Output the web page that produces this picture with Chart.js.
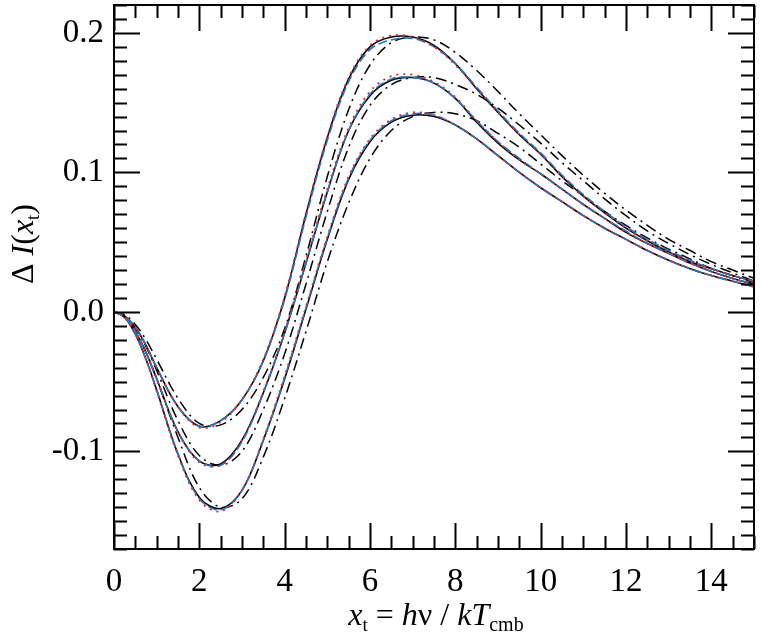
<!DOCTYPE html>
<html>
<head>
<meta charset="utf-8">
<script src="https://cdn.jsdelivr.net/npm/chart.js@4.4.1/dist/chart.umd.min.js"></script>
<style>
  html, body { margin: 0; padding: 0; background: #fff; }
  #wrap { width: 763px; height: 635px; }
</style>
</head>
<body>
<div id="wrap"><canvas id="szChart" width="763" height="635"></canvas></div>
<script>
// sampling in x_t
const xs = [0, 0.25, 0.5, 0.75, 1, 1.5, 2, 2.5, 3, 3.5, 4, 4.5, 5, 5.5, 6, 6.5, 7, 7.5,
  8, 8.5, 9, 9.5, 10, 10.5, 11, 11.5, 12, 12.5, 13, 13.5, 14, 14.5, 15];

// group A (shallowest dip, highest peak)
const solidA = [0, -0.003, -0.011, -0.024, -0.040, -0.068, -0.082, -0.078, -0.063, -0.035, 0.010, 0.070, 0.125, 0.167,
  0.190, 0.197, 0.197, 0.191, 0.178, 0.160, 0.143, 0.127, 0.113, 0.097, 0.083, 0.071, 0.060,
  0.051, 0.043, 0.036, 0.031, 0.026, 0.022];
const blueA = [0, -0.003, -0.011, -0.024, -0.040, -0.068, -0.082, -0.078, -0.063, -0.035, 0.009, 0.068, 0.123, 0.165,
  0.188, 0.195, 0.196, 0.190, 0.178, 0.161, 0.144, 0.128, 0.114, 0.098, 0.084, 0.072, 0.061,
  0.052, 0.044, 0.037, 0.031, 0.026, 0.022];
const redA = [0, -0.003, -0.011, -0.024, -0.040, -0.068, -0.083, -0.079, -0.063, -0.034, 0.011, 0.071, 0.126, 0.168,
  0.191, 0.198, 0.197, 0.190, 0.177, 0.160, 0.143, 0.127, 0.113, 0.097, 0.083, 0.071, 0.060,
  0.051, 0.043, 0.036, 0.031, 0.026, 0.022];
const dashDotA = [0, -0.002, -0.009, -0.020, -0.034, -0.062, -0.080, -0.081, -0.070, -0.047, -0.012, 0.040, 0.097, 0.145,
  0.177, 0.193, 0.197, 0.195, 0.186, 0.173, 0.158, 0.142, 0.127, 0.112, 0.098, 0.085, 0.073,
  0.062, 0.052, 0.044, 0.036, 0.030, 0.024];

// group B
const solidB = [0, -0.0035, -0.014, -0.029, -0.048, -0.086, -0.107, -0.109, -0.092, -0.058, -0.015, 0.035, 0.086, 0.130,
  0.155, 0.166, 0.168, 0.164, 0.153, 0.136, 0.121, 0.109, 0.099, 0.088, 0.077, 0.067, 0.057,
  0.049, 0.042, 0.035, 0.029, 0.024, 0.020];
const blueB = [0, -0.0035, -0.014, -0.029, -0.048, -0.086, -0.107, -0.110, -0.093, -0.058, -0.015, 0.035, 0.086, 0.130,
  0.156, 0.167, 0.168, 0.164, 0.153, 0.137, 0.122, 0.110, 0.099, 0.088, 0.077, 0.067, 0.058,
  0.049, 0.042, 0.035, 0.029, 0.024, 0.020];
const redB = [0, -0.0035, -0.014, -0.029, -0.048, -0.086, -0.108, -0.110, -0.092, -0.057, -0.014, 0.037, 0.088, 0.132,
  0.158, 0.169, 0.170, 0.165, 0.154, 0.137, 0.122, 0.109, 0.099, 0.088, 0.077, 0.067, 0.057,
  0.049, 0.042, 0.035, 0.029, 0.024, 0.020];
const dashDotB = [0, -0.003, -0.012, -0.025, -0.042, -0.078, -0.103, -0.110, -0.100, -0.070, -0.030, 0.020, 0.072, 0.118,
  0.148, 0.163, 0.168, 0.168, 0.163, 0.156, 0.146, 0.134, 0.121, 0.107, 0.094, 0.081, 0.069,
  0.058, 0.049, 0.041, 0.034, 0.028, 0.022];

// group C (deepest dip, lowest peak)
const solidC = [0, -0.004, -0.016, -0.034, -0.056, -0.102, -0.133, -0.141, -0.128, -0.092, -0.048, 0.002, 0.052, 0.095,
  0.122, 0.136, 0.141, 0.140, 0.134, 0.124, 0.112, 0.100, 0.089, 0.079, 0.069, 0.060, 0.052,
  0.044, 0.037, 0.031, 0.026, 0.022, 0.018];
const blueC = [0, -0.004, -0.016, -0.034, -0.056, -0.102, -0.134, -0.142, -0.128, -0.092, -0.047, 0.003, 0.053, 0.096,
  0.123, 0.137, 0.142, 0.141, 0.134, 0.124, 0.112, 0.100, 0.089, 0.079, 0.069, 0.060, 0.052,
  0.044, 0.037, 0.031, 0.026, 0.022, 0.018];
const redC = [0, -0.004, -0.016, -0.034, -0.057, -0.103, -0.135, -0.143, -0.128, -0.091, -0.046, 0.004, 0.054, 0.097,
  0.124, 0.138, 0.143, 0.141, 0.134, 0.124, 0.112, 0.100, 0.089, 0.079, 0.069, 0.060, 0.052,
  0.044, 0.037, 0.031, 0.026, 0.022, 0.018];
const dashDotC = [0, -0.0035, -0.014, -0.029, -0.048, -0.090, -0.126, -0.140, -0.134, -0.104, -0.062, -0.014, 0.036, 0.078,
  0.110, 0.130, 0.140, 0.143, 0.142, 0.137, 0.128, 0.118, 0.106, 0.094, 0.083, 0.072, 0.062,
  0.053, 0.045, 0.038, 0.031, 0.026, 0.021];

// axes
const xTickValues = [0, 2, 4, 6, 8, 10, 12, 14];
const yTickValues = [-0.1, 0.0, 0.1, 0.2];

const SERIF = "'Liberation Serif', 'DejaVu Serif', serif";

function toPoints(arr) {
  return arr.map((v, i) => ({ x: xs[i], y: v }));
}

function line(arr, color, dash, width) {
  return {
    data: toPoints(arr),
    borderColor: color,
    borderWidth: width,
    borderDash: dash,
    pointRadius: 0,
    fill: false,
    tension: 0.35,
  };
}

// draws a run of [font, text, baseline shift] pieces starting at x0
function drawRun(ctx, parts, x0, y0, center) {
  let w = 0;
  parts.forEach(p => { ctx.font = p[0] + ' ' + SERIF; w += ctx.measureText(p[1]).width; });
  let px = center ? x0 - w / 2 : x0;
  parts.forEach(p => {
    ctx.font = p[0] + ' ' + SERIF;
    ctx.fillText(p[1], px, y0 + p[2]);
    px += ctx.measureText(p[1]).width;
  });
}

// inward IDL-style ticks on all four sides + frame + axis titles
const frameTicks = {
  id: 'frameTicks',
  afterDraw(chart) {
    const { ctx, chartArea: a, scales: { x, y } } = chart;
    ctx.save();
    ctx.strokeStyle = '#000';
    ctx.lineWidth = 2;
    ctx.strokeRect(a.left, a.top, a.right - a.left, a.bottom - a.top);
    ctx.beginPath();
    for (let v = 0; v <= 15.001; v += 0.5) {
      const px = Math.round(x.getPixelForValue(v)) + 0.5;
      const len = Math.abs(v % 2) < 1e-6 ? 26 : 13;
      ctx.moveTo(px, a.bottom); ctx.lineTo(px, a.bottom - len);
      ctx.moveTo(px, a.top); ctx.lineTo(px, a.top + len);
    }
    for (let k = -17; k <= 22; k++) {
      const v = k / 100;
      const py = Math.round(y.getPixelForValue(v)) + 0.5;
      const len = k % 10 === 0 ? 26 : 13;
      ctx.moveTo(a.left, py); ctx.lineTo(a.left + len, py);
      ctx.moveTo(a.right, py); ctx.lineTo(a.right - len, py);
    }
    ctx.stroke();

    ctx.fillStyle = '#000';
    ctx.textBaseline = 'alphabetic';
    drawRun(ctx, [
      ['italic 32px', 'x', 0], ['19px', 't', 6], ['32px', ' = ', 0],
      ['italic 32px', 'h', 0], ['32px', 'ν / ', 0], ['italic 32px', 'kT', 0], ['20px', 'cmb', 6],
    ], (a.left + a.right) / 2 + 2, 625, true);

    ctx.translate(33, 244);
    ctx.rotate(-Math.PI / 2);
    drawRun(ctx, [
      ['32px', 'Δ ', 0], ['italic 32px', 'I', 0], ['32px', '(', 0], ['italic 32px', 'x', 0],
      ['19px', 't', 6], ['32px', ')', 0],
    ], 0, 0, true);
    ctx.restore();
  }
};

const RED = 'rgb(230, 40, 45)';
const BLUE = 'rgb(30, 120, 200)';
const BLACK = '#000';
const dotted = [2, 5];
const dashed = [9, 4];
const dashDot = [11, 5, 2, 5];

new Chart(document.getElementById('szChart'), {
  type: 'line',
  data: {
    datasets: [
      line(redA, RED, dotted, 1.8), line(redB, RED, dotted, 1.8), line(redC, RED, dotted, 1.8),
      line(blueA, BLUE, dashed, 1.6), line(blueB, BLUE, dashed, 1.6), line(blueC, BLUE, dashed, 1.6),
      line(solidA, BLACK, [], 1.6), line(solidB, BLACK, [], 1.6), line(solidC, BLACK, [], 1.6),
      line(dashDotA, BLACK, dashDot, 1.5), line(dashDotB, BLACK, dashDot, 1.5), line(dashDotC, BLACK, dashDot, 1.5),
    ],
  },
  options: {
    responsive: false,
    animation: false,
    layout: { padding: { left: 0, right: 9, top: 5, bottom: 0 } },
    plugins: { legend: { display: false }, tooltip: { enabled: false } },
    scales: {
      x: {
        type: 'linear',
        min: 0,
        max: 15,
        grid: { display: false, drawTicks: false },
        border: { display: false },
        afterBuildTicks: (s) => { s.ticks = xTickValues.map(v => ({ value: v })); },
        afterFit: (s) => { s.height = 86; s.paddingLeft = 0; s.paddingRight = 0; },
        ticks: {
          color: '#000',
          padding: 14,
          maxRotation: 0,
          font: { family: SERIF, size: 33 },
          callback: (v) => String(v),
        },
      },
      y: {
        type: 'linear',
        min: -0.17,
        max: 0.22,
        grid: { display: false, drawTicks: false },
        border: { display: false },
        afterBuildTicks: (s) => { s.ticks = yTickValues.map(v => ({ value: v })); },
        afterFit: (s) => { s.width = 114; s.paddingTop = 0; s.paddingBottom = 0; },
        ticks: {
          color: '#000',
          padding: 10,
          font: { family: SERIF, size: 33 },
          callback: (v) => Number(v).toFixed(1),
        },
      },
    },
  },
  plugins: [frameTicks],
});
</script>
</body>
</html>
